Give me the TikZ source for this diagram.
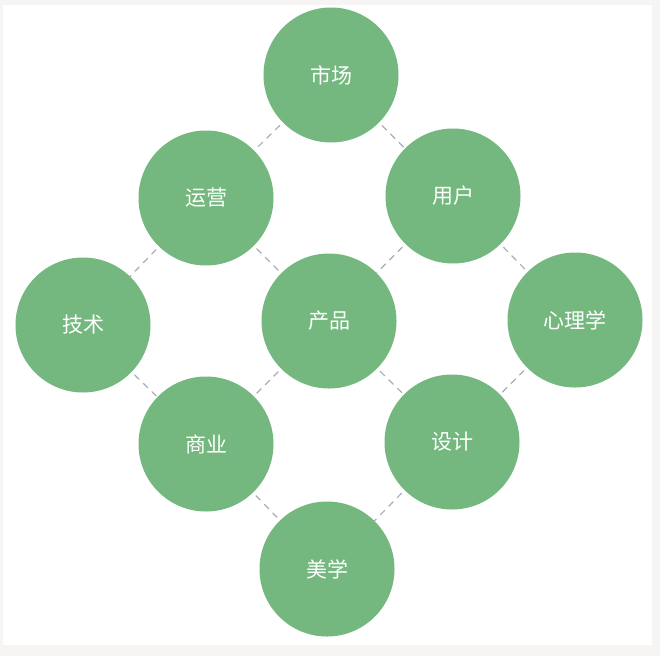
\documentclass[tikz,border=0pt]{standalone}
\usepackage{fontspec}
\newfontfamily\cjk{Noto Sans CJK SC}
\begin{document}
\begin{tikzpicture}[x=1pt, y=-1pt, line cap=round, line join=round,
  topic/.style={circle, fill=ballgreen, minimum size=135pt, inner sep=0pt,
    text=white, font=\cjk\fontsize{21}{21}\selectfont},
  link/.style={draw=linkgray, line width=1.2pt, dash pattern=on 6pt off 6pt}]
  \definecolor{ballgreen}{RGB}{117,184,127}
  \definecolor{linkgray}{RGB}{165,176,176}
  \definecolor{framegray}{RGB}{246,245,243}
  \useasboundingbox (0,0) rectangle (660,656);
  \fill[framegray] (0,0) rectangle (660,656);
  \fill[white] (3,5) rectangle (652,645);
  % dashed links first, circles on top
  \coordinate (cMarket) at (331,75);
  \coordinate (cOps) at (206,198);
  \coordinate (cUser) at (453,196);
  \coordinate (cTech) at (83,325);
  \coordinate (cProd) at (329,321);
  \coordinate (cPsy) at (575,320);
  \coordinate (cBiz) at (206,444);
  \coordinate (cDesign) at (452,442);
  \coordinate (cArt) at (327,569);
  \foreach \a/\b in {Market/Ops, Market/User, Ops/Tech, Ops/Prod, User/Prod,
    User/Psy, Tech/Biz, Prod/Biz, Prod/Design, Psy/Design, Biz/Art, Design/Art}
    \draw[link] (c\a) -- (c\b);
  \node[topic] (market) at (cMarket) {市场};
  \node[topic] (ops) at (cOps) {运营};
  \node[topic] (user) at (cUser) {用户};
  \node[topic] (tech) at (cTech) {技术};
  \node[topic] (prod) at (cProd) {产品};
  \node[topic] (psy) at (cPsy) {心理学};
  \node[topic] (biz) at (cBiz) {商业};
  \node[topic] (design) at (cDesign) {设计};
  \node[topic] (art) at (cArt) {美学};
\end{tikzpicture}
\end{document}
